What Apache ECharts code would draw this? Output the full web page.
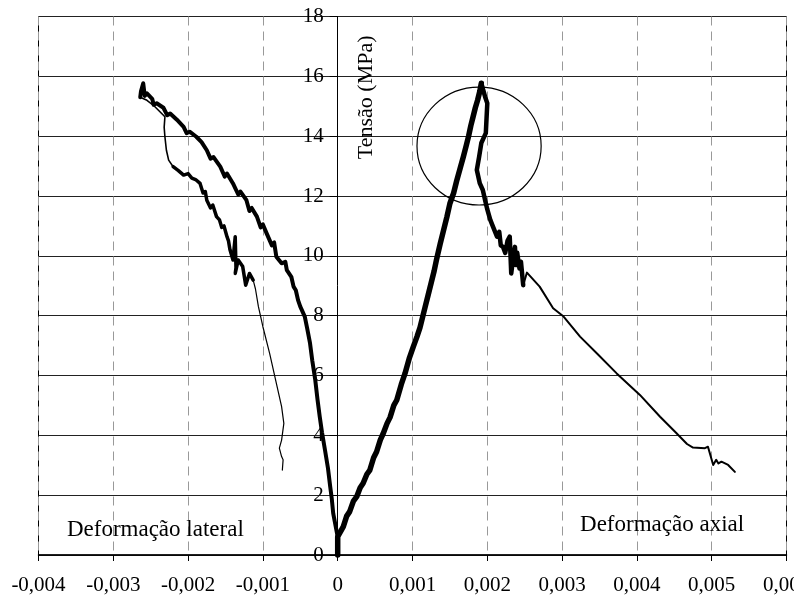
<!DOCTYPE html>
<html>
<head>
<meta charset="utf-8">
<script src="https://cdn.jsdelivr.net/npm/echarts@6/dist/echarts.min.js"></script>
<style>
  html, body { margin: 0; padding: 0; background: #fff; }
  #chart { width: 794px; height: 596px; }
</style>
</head>
<body>
<div id="chart"></div>
<script>
// Stress–strain curves of a concrete specimen: axial and lateral strain vs. stress (MPa)

// Axial strain, loading branch up to peak stress
const axialLoading = [
  [0, 0], [0, 0.61], [0.000075, 0.95], [0.00012, 1.3], [0.00016, 1.45], [0.00021, 1.8],
  [0.000254, 1.95], [0.0003, 2.25], [0.00034, 2.4], [0.00039, 2.7], [0.00043, 2.84],
  [0.00048, 3.25], [0.00052, 3.45], [0.00057, 3.85], [0.00061, 4.07], [0.00066, 4.4],
  [0.0007, 4.6], [0.00075, 5.0], [0.00079, 5.18], [0.00085, 5.7], [0.0009, 6.07],
  [0.00096, 6.6], [0.00101, 6.96], [0.00106, 7.3], [0.0011, 7.6], [0.00114, 8.0],
  [0.00117, 8.3], [0.00121, 8.7], [0.00125, 9.1], [0.00129, 9.5], [0.00132, 9.86],
  [0.00137, 10.4], [0.00141, 10.8], [0.00146, 11.3], [0.0015, 11.75], [0.00155, 12.1],
  [0.00159, 12.5], [0.00164, 12.95], [0.00168, 13.31], [0.00172, 13.7], [0.00175, 14.0],
  [0.00178, 14.35], [0.00181, 14.65], [0.00184, 14.95], [0.00187, 15.2], [0.0019, 15.5],
  [0.00192, 15.77]
];

// Axial strain, post-peak softening (dense, noisy record)
const axialPostPeak = [
  [0.00192, 15.77], [0.00197, 15.32], [0.002, 15.1], [0.00199, 14.6], [0.00198, 14.1],
  [0.00192, 13.77], [0.00189, 13.3], [0.00186, 12.87], [0.0019, 12.42], [0.00194, 12.2],
  [0.00197, 11.87], [0.002, 11.55], [0.00204, 11.2], [0.00208, 10.95], [0.00213, 10.64],
  [0.00216, 10.8], [0.00218, 10.35], [0.00221, 10.3], [0.00224, 10.1], [0.00227, 10.5],
  [0.0023, 10.64], [0.00232, 9.41], [0.00235, 10.0], [0.00237, 10.3], [0.00238, 9.69],
  [0.0024, 10.1], [0.00243, 9.58], [0.00245, 9.8], [0.00248, 9.02]
];

// Axial strain, smooth descending tail
const axialTail = [
  [0.00248, 9.02], [0.00253, 9.44], [0.0027, 8.97], [0.00288, 8.25], [0.00302, 7.97],
  [0.00324, 7.3], [0.00348, 6.7], [0.00373, 6.07], [0.00404, 5.35], [0.00431, 4.62],
  [0.00453, 4.07], [0.00467, 3.71], [0.00475, 3.59], [0.00491, 3.57], [0.00495, 3.62],
  [0.00502, 3.01], [0.00506, 3.18], [0.00509, 3.06], [0.00513, 3.12], [0.00522, 3.01],
  [0.00531, 2.78]
];

// Lateral strain, loading branch up to peak stress
const lateralLoading = [
  [0, 0], [0, 0.61], [-0.00003, 1.0], [-0.00006, 1.39], [-0.00008, 1.9], [-0.0001, 2.28],
  [-0.00013, 2.9], [-0.00017, 3.51], [-0.00021, 4.1], [-0.00024, 4.62], [-0.00027, 5.2],
  [-0.0003, 5.85], [-0.00034, 6.5], [-0.00037, 7.08], [-0.00041, 7.6], [-0.00044, 7.97],
  [-0.0005, 8.3], [-0.00053, 8.52], [-0.00056, 8.85], [-0.00059, 8.97], [-0.00062, 9.3],
  [-0.00068, 9.52], [-0.0007, 9.8], [-0.00075, 9.75], [-0.00082, 9.97], [-0.00085, 10.45],
  [-0.00088, 10.35], [-0.00095, 10.75], [-0.001, 11.05], [-0.00103, 10.95], [-0.00108, 11.31],
  [-0.00115, 11.6], [-0.00118, 11.5], [-0.00122, 11.86], [-0.0013, 12.15], [-0.00133, 12.05],
  [-0.0014, 12.42], [-0.00148, 12.75], [-0.00151, 12.65], [-0.00157, 12.98], [-0.00166, 13.3],
  [-0.0017, 13.25], [-0.00175, 13.53], [-0.00182, 13.8], [-0.00189, 13.98], [-0.00198, 14.15],
  [-0.00202, 14.1], [-0.00206, 14.31], [-0.00215, 14.55], [-0.00224, 14.76], [-0.00228, 14.7],
  [-0.00233, 14.95], [-0.00242, 15.1], [-0.00246, 15.05], [-0.00248, 15.25], [-0.00255, 15.43],
  [-0.00258, 15.35], [-0.0026, 15.77], [-0.00263, 15.5], [-0.00264, 15.3]
];

// Lateral strain, first drop after peak (sparse record)
const lateralDrop = [
  [-0.00264, 15.3], [-0.00255, 15.2], [-0.00245, 15.0], [-0.00235, 14.75], [-0.00231, 14.65],
  [-0.00232, 14.3], [-0.00231, 13.98], [-0.00229, 13.53], [-0.00226, 13.2], [-0.0022, 12.98]
];

// Lateral strain, post-peak softening (dense, noisy record)
const lateralPostPeak = [
  [-0.0022, 12.98], [-0.00213, 12.85], [-0.00206, 12.7], [-0.002, 12.75], [-0.00195, 12.6],
  [-0.0019, 12.55], [-0.00184, 12.42], [-0.0018, 12.1], [-0.00177, 12.15], [-0.00175, 11.86],
  [-0.0017, 11.6], [-0.00167, 11.7], [-0.00162, 11.31], [-0.00158, 11.2], [-0.00155, 10.95],
  [-0.00152, 11.0], [-0.00148, 10.64], [-0.00146, 10.5], [-0.00144, 10.2], [-0.0014, 9.86],
  [-0.00137, 10.64], [-0.00136, 9.6], [-0.00137, 9.41], [-0.00133, 9.86], [-0.00127, 9.64],
  [-0.00123, 9.02], [-0.00118, 9.41], [-0.00113, 9.19]
];

// Lateral strain, descending tail
const lateralTail = [
  [-0.00113, 9.19], [-0.0011, 8.9], [-0.00106, 8.3], [-0.001, 7.63], [-0.00091, 6.74],
  [-0.00082, 5.74], [-0.00075, 4.96], [-0.00072, 4.4], [-0.00075, 3.84], [-0.00078, 3.57],
  [-0.00075, 3.29], [-0.00073, 3.18], [-0.00074, 2.84]
];

// Axis ranges and step
const xRange = [-0.004, 0.006];
const xStep = 0.001;
const yRange = [0, 18];
const yStep = 2;

// Text labels and their anchor points in data units
const yAxisTitle = 'Tensão (MPa)';
const yAxisTitleAt = [0.000378, 15.3];
const lateralNote = 'Deformação lateral';
const lateralNoteAt = [-0.00362, 0.84];
const axialNote = 'Deformação axial';
const axialNoteAt = [0.00324, 1.0];

// Highlight ring around the peak: centre and half-axes in data units
const peakRingCenter = [0.00189, 13.67];
const peakRingHalfAxes = [0.00083, 1.97];

const FONT = '"Liberation Serif", "Times New Roman", serif';

// Plot box in pixels
const GRID = { left: 38.5, right: 7.5, top: 16.5, bottom: 41 };
const CHART_W = 794;
const plotW = CHART_W - GRID.left - GRID.right;
// shift the value axis from the left edge onto strain = 0
const yAxisShift = -plotW * (0 - xRange[0]) / (xRange[1] - xRange[0]);

function fmtTick(v) {
  if (Math.abs(v) < 1e-9) return '0';
  return v.toFixed(3).replace('.', ',');
}

const chart = echarts.init(document.getElementById('chart'), null, { renderer: 'canvas' });

function curve(data, width) {
  return {
    type: 'line',
    data: data,
    showSymbol: false,
    symbol: 'none',
    silent: true,
    clip: false,
    lineStyle: { color: '#000', width: width, join: 'round', cap: 'round' },
    z: 5
  };
}

chart.setOption({
  animation: false,
  backgroundColor: '#fff',
  grid: {
    left: GRID.left, right: GRID.right, top: GRID.top, bottom: GRID.bottom,
    containLabel: false, outerBoundsMode: 'none',
    show: true, borderColor: '#000', borderWidth: 1, backgroundColor: 'transparent'
  },
  xAxis: {
    type: 'value',
    min: xRange[0], max: xRange[1], interval: xStep,
    axisLine: { show: true, onZero: true, lineStyle: { color: '#000', width: 1.5 } },
    axisTick: { show: true, inside: false, length: 6, lineStyle: { color: '#000', width: 1 } },
    axisLabel: {
      show: true, margin: 20, formatter: fmtTick, showMaxLabel: true, showMinLabel: true,
      hideOverlap: false,
      fontFamily: FONT, fontSize: 21, color: '#000'
    },
    splitLine: { show: true, lineStyle: { color: '#999', width: 1, type: [9, 6] } }
  },
  yAxis: {
    type: 'value',
    position: 'left',
    offset: yAxisShift,
    min: yRange[0], max: yRange[1], interval: yStep,
    axisLine: { show: true, onZero: false, lineStyle: { color: '#000', width: 1 } },
    axisTick: { show: true, inside: false, length: 8, lineStyle: { color: '#000', width: 1 } },
    axisLabel: {
      show: true, margin: 14, fontFamily: FONT, fontSize: 21, color: '#000'
    },
    splitLine: { show: true, lineStyle: { color: '#222', width: 1 } }
  },
  series: [
    curve(axialLoading, 5.5),
    curve(axialPostPeak, 4.5),
    curve(axialTail, 2),
    curve(lateralLoading, 4),
    curve(lateralDrop, 1.6),
    curve(lateralPostPeak, 3.5),
    curve(lateralTail, 1.2)
  ]
});

// Annotations placed from data coordinates
function px(pt) { return chart.convertToPixel({ gridIndex: 0 }, pt); }

const titleP = px(yAxisTitleAt);
const latP = px(lateralNoteAt);
const axP = px(axialNoteAt);
const ringC = px(peakRingCenter);
const ringE = px([peakRingCenter[0] + peakRingHalfAxes[0], peakRingCenter[1] + peakRingHalfAxes[1]]);
const rx = Math.abs(ringE[0] - ringC[0]);
const ry = Math.abs(ringE[1] - ringC[1]);

chart.setOption({
  graphic: [
    {
      type: 'text', x: titleP[0], y: titleP[1], rotation: Math.PI / 2, z: 10,
      style: {
        text: yAxisTitle, fill: '#000', font: '22px ' + FONT,
        align: 'center', verticalAlign: 'middle'
      }
    },
    {
      type: 'text', x: latP[0], y: latP[1], z: 10,
      style: {
        text: lateralNote, fill: '#000', font: '23px ' + FONT,
        align: 'left', verticalAlign: 'middle'
      }
    },
    {
      type: 'text', x: axP[0], y: axP[1], z: 10,
      style: {
        text: axialNote, fill: '#000', font: '23px ' + FONT,
        align: 'left', verticalAlign: 'middle'
      }
    },
    {
      type: 'ellipse', z: 9,
      shape: { cx: ringC[0], cy: ringC[1], rx: rx, ry: ry },
      style: { fill: 'none', stroke: '#000', lineWidth: 1.2 }
    }
  ]
});
</script>
</body>
</html>
